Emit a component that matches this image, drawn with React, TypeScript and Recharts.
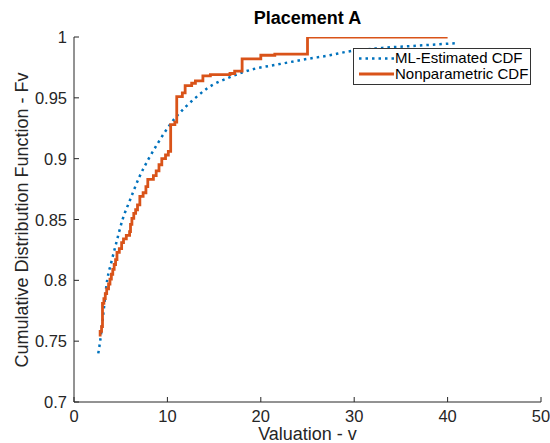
import React from 'react'
import { LineChart, Line, XAxis, YAxis } from 'recharts'

// ML-estimated CDF (dotted blue)
const mlV = [2.6, 2.8, 3.1, 3.55, 4.0, 4.5, 5.2, 6.0, 7.0, 8.0, 9.0, 10.0, 11.0, 12.0, 13.0, 14.3, 16.7, 19.4, 21.5, 25.0, 27.4, 29.3, 33.0, 37.0, 41.0]
const mlF = [0.74, 0.75, 0.77, 0.8, 0.815, 0.83, 0.85, 0.866, 0.885, 0.9, 0.913, 0.925, 0.935, 0.943, 0.95, 0.958, 0.967, 0.974, 0.977, 0.982, 0.985, 0.988, 0.991, 0.993, 0.995]

// nonparametric CDF (orange steps)
const npV = [2.65, 2.8, 2.95, 3.05, 3.2, 3.35, 3.5, 3.7, 3.85, 4.0, 4.15, 4.3, 4.45, 4.6, 4.85, 5.1, 5.3, 5.6, 5.95, 6.05, 6.2, 6.4, 6.6, 6.8, 7.05, 7.4, 7.7, 7.9, 8.5, 8.8, 9.1, 9.4, 9.8, 10.1, 10.35, 10.8, 11.0, 11.6, 11.9, 12.6, 13.0, 13.8, 14.6, 16.7, 17.2, 18.0, 20.0, 21.5, 25.0, 40.0]
const npF = [0.755, 0.758, 0.762, 0.781, 0.785, 0.789, 0.793, 0.797, 0.801, 0.805, 0.809, 0.813, 0.817, 0.823, 0.826, 0.831, 0.834, 0.837, 0.84, 0.846, 0.851, 0.855, 0.858, 0.862, 0.869, 0.872, 0.877, 0.883, 0.886, 0.89, 0.895, 0.9, 0.903, 0.906, 0.928, 0.93, 0.951, 0.954, 0.96, 0.962, 0.964, 0.968, 0.969, 0.97, 0.972, 0.982, 0.985, 0.986, 1.0, 1.0]

const xTicks = [0, 10, 20, 30, 40, 50]
const yTicks = [0.7, 0.75, 0.8, 0.85, 0.9, 0.95, 1]

const BLUE = '#0072BD'
const ORANGE = '#D95319'
const AX = '#262626'
const FONT = '"Liberation Sans", Arial, Helvetica, sans-serif'

const mlData = mlV.map((v, i) => ({ v, F: mlF[i] }))
const npData = npV.map((v, i) => ({ v, F: npF[i] }))

const XTick = ({ x, y, payload }: any) => (
  <g>
    <line x1={x} x2={x} y1={y} y2={y - 5} stroke={AX} />
    <text x={x} y={y + 20} textAnchor="middle" fontSize={16.5} fill={AX} fontFamily={FONT}>{payload.value}</text>
  </g>
)

const YTick = ({ x, y, payload }: any) => (
  <g>
    <line x1={x} x2={x + 5} y1={y} y2={y} stroke={AX} />
    <text x={x - 7} y={y + 6} textAnchor="end" fontSize={16.5} fill={AX} fontFamily={FONT}>{String(payload.value)}</text>
  </g>
)

export default function App() {
  return (
    <div style={{ position: 'relative', width: 550, height: 443, background: '#fff', fontFamily: FONT }}>
      <style>{'body{margin:0}'}</style>
      <LineChart width={550} height={443} margin={{ top: 37, right: 9, bottom: 0, left: 0 }}>
        <XAxis type="number" dataKey="v" domain={[0, 50]} ticks={xTicks} height={41}
          tickSize={0} tickMargin={0} tickLine={false} tick={<XTick />} axisLine={{ stroke: AX }} />
        <YAxis type="number" dataKey="F" domain={[0.7, 1]} ticks={yTicks} width={74} allowDataOverflow
          tickSize={0} tickMargin={0} tickLine={false} tick={<YTick />} axisLine={{ stroke: AX }} />
        <Line data={mlData} dataKey="F" type="monotone" stroke={BLUE} strokeWidth={2.5}
          strokeDasharray="2.5 4" dot={false} isAnimationActive={false} />
        <Line data={npData} dataKey="F" type="stepAfter" stroke={ORANGE} strokeWidth={2.8}
          dot={false} isAnimationActive={false} />
      </LineChart>
      <div style={{ position: 'absolute', left: 74, width: 467, top: 8, textAlign: 'center', fontWeight: 'bold', fontSize: 18, color: '#000' }}>
        Placement A
      </div>
      <div style={{ position: 'absolute', left: 74, width: 467, top: 426, height: 17, textAlign: 'center', fontSize: 18, color: AX, lineHeight: '17px' }}>
        Valuation - v
      </div>
      <div style={{ position: 'absolute', left: 22, top: 220, width: 0, height: 0 }}>
        <div style={{ position: 'absolute', transform: 'translate(-50%, -50%) rotate(-90deg)', whiteSpace: 'nowrap', fontSize: 18, color: AX, lineHeight: '20px' }}>
          Cumulative Distribution Function - Fv
        </div>
      </div>
      <div style={{ position: 'absolute', left: 353, top: 48, width: 176, height: 35, border: '1px solid #333', background: '#fff', fontSize: 15, color: '#000', lineHeight: '16px' }}>
        <svg width={40} height={35} style={{ position: 'absolute', left: 4, top: 0 }}>
          <line x1={1} x2={36} y1={9.5} y2={9.5} stroke={BLUE} strokeWidth={2.5} strokeDasharray="2.5 4" />
          <line x1={1} x2={36} y1={25} y2={25} stroke={ORANGE} strokeWidth={2.8} />
        </svg>
        <div style={{ position: 'absolute', left: 41, top: 1, whiteSpace: 'nowrap' }}>ML-Estimated CDF</div>
        <div style={{ position: 'absolute', left: 41, top: 17, whiteSpace: 'nowrap' }}>Nonparametric CDF</div>
      </div>
    </div>
  )
}
